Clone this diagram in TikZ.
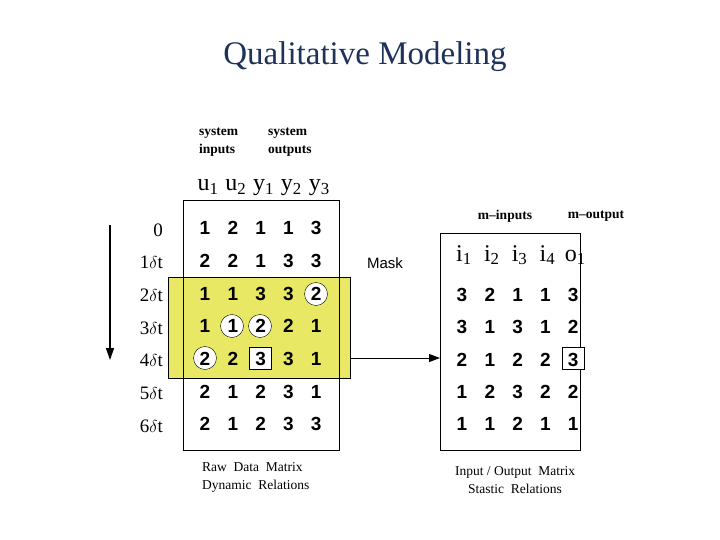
\documentclass[tikz,border=0pt]{standalone}
\usepackage{fontspec}
\setmainfont{Liberation Serif}
\newfontfamily\sansf{Liberation Sans}
\definecolor{titleblue}{RGB}{30,50,90}
\definecolor{maskyellow}{RGB}{232,232,100}
\usetikzlibrary{arrows.meta}
\begin{document}
\begin{tikzpicture}[x=1pt,y=-1pt,
    num/.style={font=\sansf\bfseries\fontsize{19}{19}\selectfont,inner sep=1pt,text height=13.5pt,text depth=0pt},
    hdr/.style={font=\fontsize{24}{24}\selectfont,inner sep=0pt,text height=15pt,text depth=5pt},
    small/.style={font=\fontsize{13.5}{18}\selectfont,align=left,inner sep=0pt},
    tlab/.style={font=\fontsize{19}{19}\selectfont,anchor=east,inner sep=0pt},
    ring/.style={circle,draw,fill=white,minimum size=23pt,inner sep=0pt},
    sq/.style={draw,fill=white,minimum size=22pt,inner sep=0pt}]
        \useasboundingbox (0,0) rectangle (720,540);
        \node[text=titleblue,font=\fontsize{33}{33}\selectfont] (title) at (365,57) {Qualitative Modeling};
        % raw data matrix
        \fill[maskyellow] (168,277) rectangle (350,378);
        \draw (183,200) rectangle (339,450);
        \draw (168,277) rectangle (350,378);
        \node[small,anchor=north west] (sysin) at (199,128) {\textbf{system}\\\textbf{inputs}};
        \node[small,anchor=north west] (sysout) at (268,128) {\textbf{system}\\\textbf{outputs}};
        \foreach \lab [count=\c] in {u_1,u_2,y_1,y_2,y_3}
            \node[hdr] (h\c) at (208+27.8*\c-27.8,186) {$\mathrm{\lab}$};
        \foreach \t [count=\r] in {0,1\delta t,2\delta t,3\delta t,4\delta t,5\delta t,6\delta t}
            \node[tlab] (t\r) at (163,230+32.7*\r-32.7) {$\mathrm{\t}$};
        \node[ring] at (316,294) {};
        \node[ring] at (232,326) {};
        \node[ring] at (260,326) {};
        \node[ring] at (205,358) {};
        \node[sq] at (260,358) {};
        \foreach \row [count=\r] in {{1,2,1,1,3},{2,2,1,3,3},{1,1,3,3,2},{1,1,2,2,1},{2,2,3,3,1},{2,1,2,3,1},{2,1,2,3,3}}
            \foreach \v [count=\c] in \row
                \node[num] (a\r\c) at (205+27.8*\c-27.8,228+32.7*\r-32.7) {\v};
        \coordinate (ttop) at (110,225);
        \coordinate (tbot) at (110,360);
        \draw[line width=1.5pt,-{Triangle[length=12pt,width=8pt]}] (ttop) -- (tbot);
        \node[small,anchor=north west] (rawcap) at (202,462) {Raw\ \ Data\ \ Matrix\\Dynamic\ \ Relations};
        % mask
        \node[font=\sansf\fontsize{15}{15}\selectfont] (mask) at (385,263) {Mask};
        \coordinate (maskout) at (350,358);
        \coordinate (maskin) at (440,358);
        % input/output matrix
        \draw (440,233) rectangle (580,450);
        \node[small] (min) at (505,216) {\textbf{m--inputs}};
        \node[small] (mout) at (596,216) {\textbf{m--output}};
        \foreach \lab [count=\c] in {i_1,i_2,i_3,i_4,o_1}
            \node[hdr] (g\c) at (464+27.8*\c-27.8,256) {$\mathrm{\lab}$};
        \node[sq] at (573,358) {};
        \foreach \row [count=\r] in {{3,2,1,1,3},{3,1,3,1,2},{2,1,2,2,3},{1,2,3,2,2},{1,1,2,1,1}}
            \foreach \v [count=\c] in \row
                \node[num] (b\r\c) at (462+27.8*\c-27.8,295+32.2*\r-32.2) {\v};
        \draw[line width=1pt,-{Triangle[length=11pt,width=8pt]}] (maskout) -- (maskin);
        \node[small,align=center] (iocap) at (515,480) {Input / Output\ \ Matrix\\Stastic\ \ Relations};
\end{tikzpicture}
\end{document}
